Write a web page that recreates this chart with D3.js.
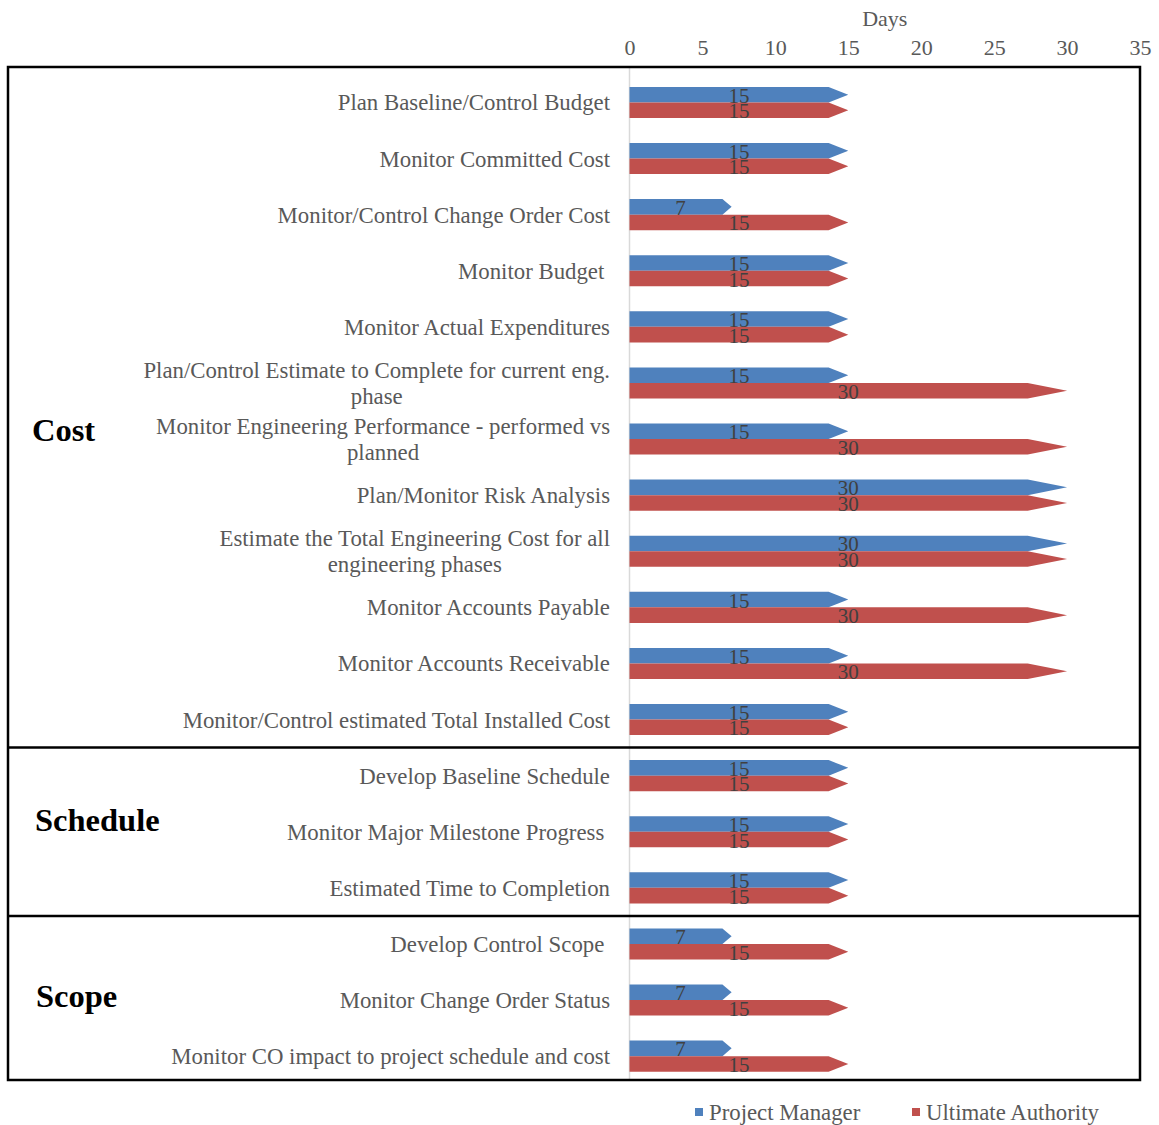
<!DOCTYPE html>
<html>
<head>
<meta charset="utf-8">
<script src="https://cdn.jsdelivr.net/npm/d3@7"></script>
<style>
  html, body { margin: 0; padding: 0; background: #fff; }
  svg { display: block; font-family: "Liberation Serif", "Times New Roman", serif; }
</style>
</head>
<body>
<svg id="chart" width="1159" height="1125"></svg>
<script>
// Activities, one row each (a "\n" breaks a label onto two lines)
const categories = [
  "Plan Baseline/Control Budget",
  "Monitor Committed Cost",
  "Monitor/Control Change Order Cost",
  "Monitor Budget ",
  "Monitor Actual Expenditures",
  "Plan/Control Estimate to Complete for current eng.\nphase",
  "Monitor Engineering Performance - performed vs\nplanned",
  "Plan/Monitor Risk Analysis",
  "Estimate the Total Engineering Cost for all\nengineering phases",
  "Monitor Accounts Payable",
  "Monitor Accounts Receivable",
  "Monitor/Control estimated Total Installed Cost",
  "Develop Baseline Schedule",
  "Monitor Major Milestone Progress ",
  "Estimated Time to Completion",
  "Develop Control Scope ",
  "Monitor Change Order Status",
  "Monitor CO impact to project schedule and cost"
];

// Days of authority per activity
const projectManager    = [15, 15, 7, 15, 15, 15, 15, 30, 30, 15, 15, 15, 15, 15, 15, 7, 7, 7];
const ultimateAuthority = [15, 15, 15, 15, 15, 30, 30, 30, 30, 30, 30, 15, 15, 15, 15, 15, 15, 15];

const seriesNames = ["Project Manager", "Ultimate Authority"];
const seriesColors = ["#4F81BD", "#C0504D"];

// Section groups: name and number of rows
const groupNames = ["Cost", "Schedule", "Scope"];
const groupSizes = [12, 3, 3];

const xTicks = [0, 5, 10, 15, 20, 25, 30, 35];
const xTitle = "Days";

// ---- layout ----
const svg = d3.select("#chart");
const frame = { left: 8, right: 1140, top: 67, bottom: 1080 };
const labelSize = 22.8;

const x = d3.scaleLinear().domain([0, 35]).range([629.5, 1140]);
const y = d3.scaleBand()
  .domain(d3.range(categories.length))
  .range([74.4, 1084.2])
  .paddingInner(0.445)
  .paddingOuter(0.2225);
const ySub = d3.scaleBand().domain(d3.range(seriesNames.length)).range([0, y.bandwidth()]);

const rows = categories.map((c, i) => ({
  i, label: c, values: [projectManager[i], ultimateAuthority[i]]
}));

// value axis along the top
const axis = d3.axisTop(x).tickValues(xTicks).tickSize(0).tickPadding(0);
const gAxis = svg.append("g").attr("transform", "translate(0,55)").call(axis);
gAxis.select(".domain").remove();
gAxis.selectAll("text")
  .attr("font-family", "Liberation Serif, serif")
  .attr("font-size", 22)
  .attr("fill", "#595959");

svg.append("text")
  .attr("x", x(17.5))
  .attr("y", 26)
  .attr("text-anchor", "middle")
  .attr("font-size", 22)
  .attr("fill", "#595959")
  .text(xTitle);

// category axis line
svg.append("line")
  .attr("x1", x(0)).attr("x2", x(0))
  .attr("y1", frame.top).attr("y2", frame.bottom)
  .attr("stroke", "#d9d9d9").attr("stroke-width", 1.5);

// arrow-shaped bars: the point length grows with the bar length
function arrowPath(v, y0, h) {
  const x0 = x(0), x1 = x(v);
  const head = 0.09 * (x1 - x0);
  return `M${x0},${y0}L${x1 - head},${y0}L${x1},${y0 + h / 2}L${x1 - head},${y0 + h}L${x0},${y0 + h}Z`;
}

const rowG = svg.append("g").selectAll("g").data(rows).join("g")
  .attr("transform", d => `translate(0,${y(d.i)})`);

rowG.selectAll("path").data(d => d.values.map((v, s) => ({ v, s }))).join("path")
  .attr("d", d => arrowPath(d.v, ySub(d.s), ySub.bandwidth()))
  .attr("fill", d => seriesColors[d.s]);

rowG.selectAll("text.val").data(d => d.values.map((v, s) => ({ v, s }))).join("text")
  .attr("class", "val")
  .attr("x", d => x(d.v / 2))
  .attr("y", d => ySub(d.s) + ySub.bandwidth() / 2)
  .attr("dy", "0.38em")
  .attr("text-anchor", "middle")
  .attr("font-size", 21)
  .attr("fill", "#404040")
  .text(d => d.v);

// category labels, block right-aligned, lines centred within the block
const labelRight = 610;
const lblG = svg.append("g");
rows.forEach(d => {
  const lines = d.label.split("\n");
  const cy = y(d.i) + y.bandwidth() / 2;
  const lineH = 26;
  const t = lblG.append("text")
    .attr("font-size", labelSize)
    .attr("fill", "#595959")
    .style("white-space", "pre");
  if (lines.length === 1) {
    t.attr("x", labelRight).attr("y", cy).attr("dy", "0.35em")
      .attr("text-anchor", "end").text(lines[0]);
  } else {
    // measure the widest line to centre the block
    const tmp = lblG.append("text").attr("font-size", labelSize).text(lines[0]);
    const w = tmp.node().getComputedTextLength();
    tmp.remove();
    const cx = labelRight - w / 2;
    lines.forEach((ln, k) => {
      t.append("tspan")
        .attr("x", cx)
        .attr("y", cy + (k - (lines.length - 1) / 2) * lineH)
        .attr("dy", "0.35em")
        .attr("text-anchor", "middle")
        .text(ln);
    });
  }
});

// section frame and dividers
svg.append("rect")
  .attr("x", frame.left).attr("y", frame.top)
  .attr("width", frame.right - frame.left).attr("height", frame.bottom - frame.top)
  .attr("fill", "none").attr("stroke", "#000").attr("stroke-width", 2.5);

let start = 0;
const groupLabelY = [430, 820, 996];
const groupLabelX = [32, 35, 36];
groupNames.forEach((g, k) => {
  const end = start + groupSizes[k];
  if (end < categories.length) {
    const yb = (y(end - 1) + y.bandwidth() + y(end)) / 2;
    svg.append("line")
      .attr("x1", frame.left).attr("x2", frame.right)
      .attr("y1", yb).attr("y2", yb)
      .attr("stroke", "#000").attr("stroke-width", 2.5);
  }
  svg.append("text")
    .attr("x", groupLabelX[k])
    .attr("y", groupLabelY[k])
    .attr("dy", "0.35em")
    .attr("font-size", 32.5)
    .attr("font-weight", "bold")
    .attr("fill", "#000")
    .text(g);
  start = end;
});

// legend
const legendX = [695, 912];
const lg = svg.append("g").selectAll("g").data(seriesNames).join("g")
  .attr("transform", (d, i) => `translate(${legendX[i]},1112)`);
lg.append("rect").attr("x", 0).attr("y", -4).attr("width", 8).attr("height", 8)
  .attr("fill", (d, i) => seriesColors[i]);
lg.append("text").attr("x", 14).attr("y", 0).attr("dy", "0.35em")
  .attr("font-size", labelSize).attr("fill", "#595959").text(d => d);
</script>
</body>
</html>
